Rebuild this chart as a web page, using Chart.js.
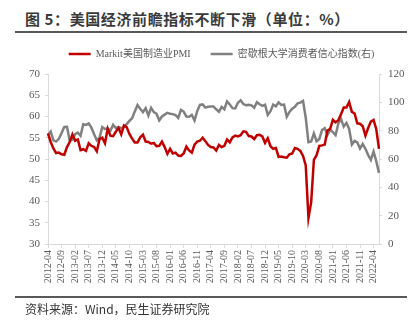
<!DOCTYPE html>
<html>
<head>
<meta charset="utf-8">
<script src="https://cdn.jsdelivr.net/npm/chart.js@4.4.0/dist/chart.umd.min.js"></script>
<style>
  body { margin: 0; width: 420px; height: 331px; background: #fff; position: relative; overflow: hidden; font-family: "Noto Sans CJK SC", sans-serif; }
  #title { position: absolute; left: 25px; top: 8px; font-size: 15px; font-weight: bold; color: #3a3a3a; line-height: 22px; white-space: nowrap; letter-spacing: 0.6px; }
  .rule { position: absolute; left: 15px; width: 392px; height: 2px; background: #595959; }
  #source { position: absolute; left: 25px; top: 300px; font-size: 12px; color: #333; line-height: 18px; white-space: nowrap; }
  #wrap { position: absolute; left: 0; top: 0; width: 420px; height: 331px; }
</style>
</head>
<body>
<div id="title">图 5：美国经济前瞻指标不断下滑（单位：%）</div>
<div class="rule" style="top:31px"></div>
<div id="wrap"><canvas id="myChart" width="420" height="331"></canvas></div>
<div class="rule" style="top:296px"></div>
<div id="source">资料来源：Wind，民生证券研究院</div>
<script>
// months 2012-04 .. 2022-06
var months = [];
for (var y = 2012; y <= 2022; y++) {
    for (var m = 1; m <= 12; m++) {
        if (y == 2012 && m < 4) continue;
        if (y == 2022 && m > 6) continue;
        months.push(y + '-' + (m < 10 ? '0' + m : m));
    }
}

var pmi_label = 'Markit美国制造业PMI';
var umich_label = '密歇根大学消费者信心指数(右)';

var pmi = [
    56.0, 54.0, 52.5, 51.4, 51.5, 51.1, 51.0, 52.8, 54.0,
    55.8, 54.3, 54.6, 52.1, 52.3, 51.9, 53.7, 53.1, 52.8, 51.8, 54.7, 55.0,
    53.7, 57.1, 55.5, 55.4, 56.4, 57.3, 55.8, 57.9, 57.5, 55.9, 54.8, 53.9,
    53.9, 55.1, 55.7, 54.1, 54.0, 53.6, 53.8, 53.0, 53.1, 54.1, 52.8, 51.2,
    52.4, 51.3, 51.5, 50.8, 50.7, 51.3, 52.9, 52.0, 51.5, 53.4, 54.1, 54.3,
    55.0, 54.2, 53.3, 52.8, 52.7, 52.0, 53.3, 52.8, 53.1, 54.6, 53.9, 55.1,
    55.5, 55.3, 55.6, 56.5, 56.4, 55.4, 55.3, 54.7, 55.6, 55.7, 55.3, 53.8,
    54.9, 53.0, 52.4, 52.6, 50.5, 50.6, 50.4, 50.3, 51.1, 51.3, 52.6, 52.4,
    51.9, 50.7, 48.5, 36.1, 39.8, 49.8, 50.9, 53.1, 53.2, 53.4, 56.7, 57.1,
    59.2, 58.6, 59.1, 60.5, 62.1, 62.1, 63.4, 61.1, 60.7, 58.4, 58.3, 57.7,
    55.5, 57.3, 58.8, 59.2, 57.0, 52.4
];

var umich = [
    77.0, 79.3, 73.2, 72.3, 74.3, 78.3, 82.6, 82.7, 72.9,
    73.8, 77.6, 78.6, 76.4, 84.5, 84.1, 85.1, 82.1, 77.5, 73.2, 75.1, 82.5,
    81.2, 81.6, 80.0, 84.1, 81.9, 82.5, 81.8, 82.5, 84.6, 86.9, 88.8, 93.6,
    98.1, 95.4, 93.0, 95.9, 90.7, 96.1, 93.1, 91.9, 87.2, 90.0, 91.3, 92.6,
    92.0, 91.7, 91.0, 89.0, 94.7, 93.5, 90.0, 89.8, 91.2, 87.2, 93.8, 98.2,
    98.5, 96.3, 96.9, 97.0, 97.1, 95.1, 93.4, 96.8, 95.1, 100.7, 98.5, 95.9,
    95.7, 99.7, 101.4, 98.8, 98.0, 98.2, 97.9, 96.2, 100.1, 98.6, 97.5, 98.3,
    91.2, 93.8, 98.4, 97.2, 100.0, 98.2, 98.4, 89.8, 93.2, 95.5, 96.8, 99.3,
    99.8, 101.0, 89.1, 71.8, 72.3, 78.1, 72.5, 74.1, 80.4, 81.8, 76.9, 80.7,
    79.0, 76.8, 84.9, 88.3, 82.9, 85.5, 81.2, 70.3, 72.8, 71.7, 67.4, 70.6,
    67.2, 62.8, 59.4, 65.2, 58.4, 50.2
];

var axisFont = { family: '"Liberation Serif", "Noto Sans CJK SC", serif', size: 11 };

const legendHeight = {
    id: 'legendHeight',
    beforeInit(chart) {
        const fit = chart.legend.fit;
        chart.legend.fit = function() {
            fit.call(this);
            this.height = 45;
        };
    }
};

const ctx = document.getElementById('myChart');
const myChart = new Chart(ctx, {
    type: 'line',
    data: {
        labels: months,
        datasets: [{
            label: pmi_label,
            data: pmi,
            borderColor: '#C00000',
            backgroundColor: '#C00000',
            borderWidth: 2.5,
            pointRadius: 0,
            tension: 0,
            yAxisID: 'y'
        }, {
            label: umich_label,
            data: umich,
            borderColor: '#808080',
            backgroundColor: '#808080',
            borderWidth: 2.5,
            pointRadius: 0,
            tension: 0,
            yAxisID: 'y1'
        }]
    },
    options: {
        responsive: false,
        animation: false,
        layout: { padding: { top: 29, left: 23, right: 0, bottom: 43 } },
        plugins: {
            legend: {
                position: 'top',
                labels: {
                    usePointStyle: true,
                    pointStyle: 'line',
                    pointStyleWidth: 22,
                    padding: 20,
                    color: '#595959',
                    font: { family: '"Liberation Serif", "Noto Sans CJK SC", serif', size: 10 }
                }
            },
            tooltip: { enabled: false }
        },
        scales: {
            x: {
                grid: { display: true, drawOnChartArea: false, drawTicks: true, tickLength: 4, color: '#d9d9d9' },
                border: { color: '#d9d9d9' },
                ticks: {
                    autoSkip: false,
                    maxRotation: 90,
                    minRotation: 90,
                    padding: 2,
                    color: '#595959',
                    font: { family: '"Liberation Serif", serif', size: 10 },
                    callback: function(value, index) {
                        return index % 5 === 0 ? months[index] : null;
                    }
                },
                afterFit: function(scale) { scale.height = 44; }
            },
            y: {
                position: 'left',
                min: 30,
                max: 70,
                grid: { drawOnChartArea: false, tickLength: 3, color: '#d9d9d9' },
                border: { color: '#d9d9d9' },
                ticks: { stepSize: 5, padding: 5, color: '#595959', font: axisFont },
                afterFit: function(scale) { scale.width = 25; }
            },
            y1: {
                position: 'right',
                min: 0,
                max: 120,
                grid: { drawOnChartArea: false, tickLength: 3, color: '#d9d9d9' },
                border: { color: '#d9d9d9' },
                ticks: { stepSize: 20, padding: 6, color: '#595959', font: axisFont },
                afterFit: function(scale) { scale.width = 41; }
            }
        }
    },
    plugins: [legendHeight]
});
</script>
</body>
</html>
